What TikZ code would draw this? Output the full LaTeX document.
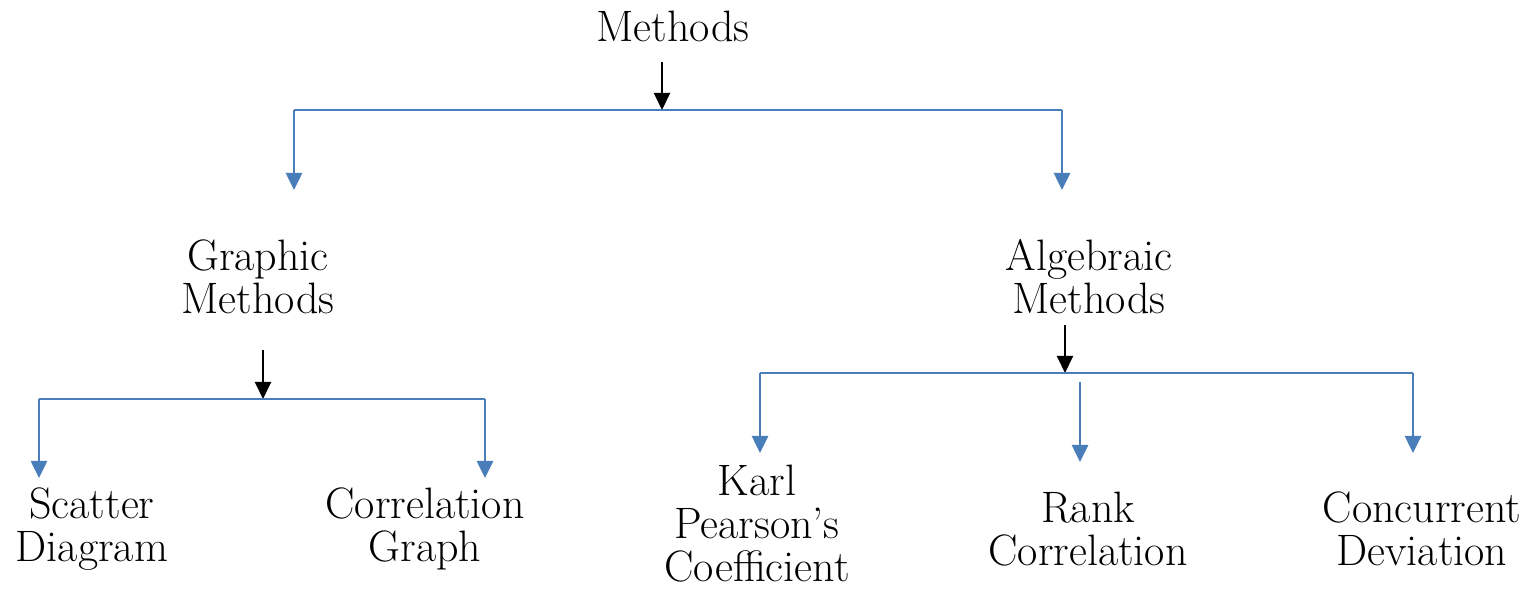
\documentclass[tikz,border=0pt]{standalone}
\usetikzlibrary{arrows.meta}
\definecolor{officeblue}{HTML}{4A7EBB}
\begin{document}
\begin{tikzpicture}[x=0.5pt,y=-0.5pt,
  lbl/.style={align=center,inner sep=0pt,font=\fontsize{22}{21.5}\selectfont},
  blk/.style={draw=black,line width=1pt,-{Triangle[width=8pt,length=8.5pt]}},
  blu/.style={draw=officeblue,line width=1.3pt},
  bluarr/.style={draw=officeblue,line width=1.3pt,-{Triangle[width=8pt,length=8.5pt]}}]
\useasboundingbox (0,0) rectangle (1538,592);
% nodes
\node[lbl] (methods) at (673,26) {Methods};
\node[lbl] (graphic) at (258,277) {Graphic\\Methods};
\node[lbl] (algebraic) at (1089,277) {Algebraic\\Methods};
\node[lbl] (scatter) at (92,529) {Scatter\\Diagram};
\node[lbl] (corrgraph) at (425,529) {Correlation\\Graph};
\node[lbl] (karl) at (757,524) {Karl\\Pearson's\\Coefficient};
\node[lbl] (rank) at (1088,529) {Rank\\Correlation};
\node[lbl] (concurrent) at (1422,529) {Concurrent\\Deviation};
% level 1
\coordinate (m0) at (662,62);
\coordinate (j0) at (662,110);
\coordinate (jL) at (294,110);
\coordinate (jR) at (1062,110);
\coordinate (eL) at (294,190);
\coordinate (eR) at (1062,190);
\draw[blk] (m0) -- (j0);
\draw[blu] (jL) -- (jR);
\draw[bluarr] (jL) -- (eL);
\draw[bluarr] (jR) -- (eR);
% graphic
\coordinate (g0) at (263,350);
\coordinate (g1) at (263,399);
\coordinate (gL) at (39,399);
\coordinate (gR) at (485,399);
\coordinate (gLe) at (39,478);
\coordinate (gRe) at (485,478);
\draw[blk] (g0) -- (g1);
\draw[blu] (gL) -- (gR);
\draw[bluarr] (gL) -- (gLe);
\draw[bluarr] (gR) -- (gRe);
% algebraic
\coordinate (a0) at (1065,325);
\coordinate (a1) at (1065,373);
\coordinate (aL) at (760,373);
\coordinate (aR) at (1413,373);
\coordinate (aLe) at (760,453);
\coordinate (aRe) at (1413,453);
\coordinate (aM) at (1080,382);
\coordinate (aMe) at (1080,462);
\draw[blk] (a0) -- (a1);
\draw[blu] (aL) -- (aR);
\draw[bluarr] (aL) -- (aLe);
\draw[bluarr] (aR) -- (aRe);
\draw[bluarr] (aM) -- (aMe);
\end{tikzpicture}
\end{document}
